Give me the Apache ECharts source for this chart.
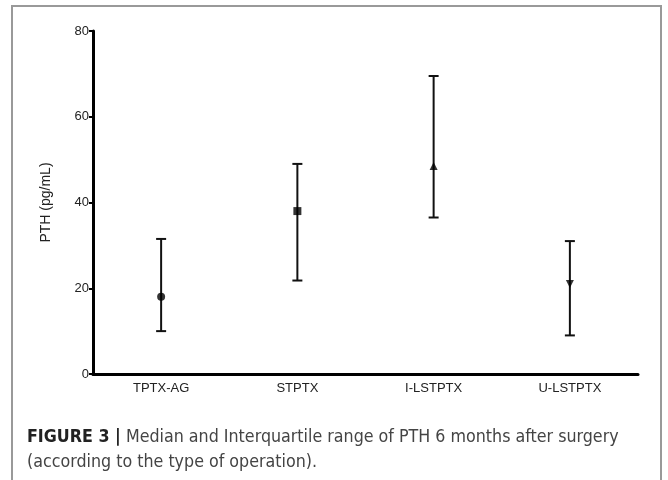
<!DOCTYPE html>
<html>
<head>
<meta charset="utf-8">
<script src="https://cdn.jsdelivr.net/npm/echarts@6/dist/echarts.min.js"></script>
<style>html,body{margin:0;padding:0;background:#fff}#c{width:668px;height:480px}</style>
</head>
<body>
<div id="c"></div>
<script>
var categories = ['TPTX-AG', 'STPTX', 'I-LSTPTX', 'U-LSTPTX'];
var medians = [18, 38, 48.5, 21];
var q1 = [10, 21.8, 36.5, 9];
var q3 = [31.5, 49, 69.5, 31];
var markers = ['circle', 'rect', 'triangle', 'path://M0,0 L10,0 L5,10 Z'];
var yTicks = [0, 20, 40, 60, 80];

var chart = echarts.init(document.getElementById('c'));
var FONT = '"Liberation Sans", Arial, sans-serif';
var NARROW = '"Liberation Sans Narrow", "DejaVu Sans Condensed", "Liberation Sans", sans-serif';

chart.setOption({
  animation: false,
  backgroundColor: '#fff',
  grid: { left: 93, right: 30, top: 31, bottom: 106 },
  xAxis: {
    type: 'category',
    data: categories,
    axisLine: { lineStyle: { color: '#000', width: 3 } },
    axisTick: { alignWithLabel: true, length: 4, lineStyle: { color: '#000', width: 2 } },
    axisLabel: { color: '#222', fontSize: 13, fontFamily: FONT, margin: 8 },
    splitLine: { show: false }
  },
  yAxis: {
    type: 'value',
    min: yTicks[0], max: yTicks[yTicks.length - 1], interval: 20,
    name: 'PTH (pg/mL)',
    nameLocation: 'middle',
    nameGap: 40,
    nameTextStyle: { color: '#222', fontSize: 14, fontFamily: FONT },
    axisLine: { show: true, lineStyle: { color: '#000', width: 3 } },
    axisTick: { show: true, length: 4, lineStyle: { color: '#000', width: 2 } },
    axisLabel: { color: '#222', fontSize: 13, fontFamily: FONT, margin: 4 },
    splitLine: { show: false }
  },
  graphic: [
    { type: 'rect', shape: { x: 12, y: 6, width: 649, height: 490 }, style: { fill: 'none', stroke: '#999', lineWidth: 2 }, z: -1 },
    { type: 'text', left: 27, top: 428, style: {
        text: '{b|FIGURE 3 |} Median and Interquartile range of PTH 6 months after surgery',
        rich: { b: { fontWeight: 'bold', fontSize: 17.7, fontFamily: NARROW, fill: '#222' } },
        fontSize: 17.7, fontFamily: NARROW, fill: '#444' } },
    { type: 'text', left: 27, top: 453, style: {
        text: '(according to the type of operation).',
        fontSize: 17.7, fontFamily: NARROW, fill: '#444' } }
  ],
  series: [
    {
      type: 'custom',
      data: categories.map(function (c, i) { return [i, q1[i], q3[i]]; }),
      renderItem: function (params, api) {
        var x = api.value(0);
        var lo = api.coord([x, api.value(1)]);
        var hi = api.coord([x, api.value(2)]);
        var hw = 5;
        var st = { stroke: '#111', lineWidth: 2 };
        return { type: 'group', children: [
          { type: 'line', shape: { x1: lo[0], y1: lo[1], x2: hi[0], y2: hi[1] }, style: st },
          { type: 'line', shape: { x1: lo[0] - hw, y1: lo[1], x2: lo[0] + hw, y2: lo[1] }, style: st },
          { type: 'line', shape: { x1: hi[0] - hw, y1: hi[1], x2: hi[0] + hw, y2: hi[1] }, style: st }
        ] };
      },
      z: 2
    },
    {
      type: 'scatter',
      data: categories.map(function (c, i) {
        return { value: [i, medians[i]], symbol: markers[i] };
      }),
      symbolSize: 8,
      itemStyle: { color: '#000' },
      z: 3
    }
  ]
});
</script>
</body>
</html>
